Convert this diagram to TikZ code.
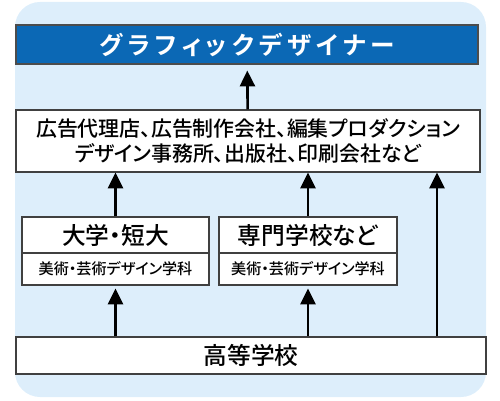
\documentclass[tikz,border=0pt]{standalone}
\usepackage{fontspec}
\newfontfamily\jp{Noto Sans CJK JP Medium}[BoldFont={Noto Sans CJK JP Bold}, RawFeature=+palt]
\usetikzlibrary{arrows.meta}
\definecolor{bgblue}{HTML}{DDEEFB}
\definecolor{titleblue}{HTML}{0B68B5}

\begin{document}
\begin{tikzpicture}[
  box/.style={draw=black!75, line width=0.6pt, fill=white, inner sep=0pt},
  up/.style={-{Triangle[width=8.5pt,length=9pt]}, line width=1.5pt}
]
\useasboundingbox (0,0) rectangle (10,8);

% Background
\fill[bgblue, rounded corners=0.5cm] (0.30,0.06) rectangle (9.72,7.96);

% Goal
\node[box, draw=black!70, fill=titleblue, text=white, minimum width=9.24cm, minimum height=0.78cm,
  font=\jp\bfseries\fontsize{14pt}{15pt}\selectfont\addfontfeature{LetterSpace=20}]
  (designer) at (4.94,7.11) {グラフィックデザイナー};

% Workplaces
\node[box, minimum width=9.28cm, minimum height=1.24cm, align=center,
  font=\jp\fontsize{11.9pt}{14.7pt}\selectfont]
  (company) at (4.96,5.18) {広告代理店、広告制作会社、編集プロダクション\\デザイン事務所、出版社、印刷会社など};

% Schools
\node[box, minimum width=3.74cm, minimum height=0.72cm, font=\jp\fontsize{13.5pt}{15pt}\selectfont]
  (univ) at (2.31,3.30) {大学・短大};
\node[box, minimum width=3.74cm, minimum height=0.64cm, font=\jp\fontsize{8.6pt}{10pt}\selectfont]
  (univsub) at (2.31,2.62) {美術・芸術デザイン学科};
\node[box, minimum width=3.56cm, minimum height=0.72cm, font=\jp\fontsize{13.5pt}{15pt}\selectfont]
  (senmon) at (6.16,3.30) {専門学校など};
\node[box, minimum width=3.56cm, minimum height=0.64cm, font=\jp\fontsize{8.6pt}{10pt}\selectfont]
  (senmonsub) at (6.16,2.62) {美術・芸術デザイン学科};

% High school
\node[box, minimum width=9.40cm, minimum height=0.74cm, font=\jp\fontsize{13.5pt}{15pt}\selectfont]
  (koko) at (5.02,0.89) {高等学校};

% Arrows
\coordinate (direct) at (8.74,0.89);
\draw[up, shorten >=0.12cm] (company) -- (designer);
\draw[up] (univ.north) -- (univ.north |- company.south);
\draw[up] (senmon.north) -- (senmon.north |- company.south);
\draw[up] (direct |- koko.north) -- (direct |- company.south);
\draw[up, shorten >=0.06cm] (koko.north -| univsub.south) -- (univsub.south);
\draw[up, shorten >=0.06cm] (koko.north -| senmonsub.south) -- (senmonsub.south);

\end{tikzpicture}
\end{document}
